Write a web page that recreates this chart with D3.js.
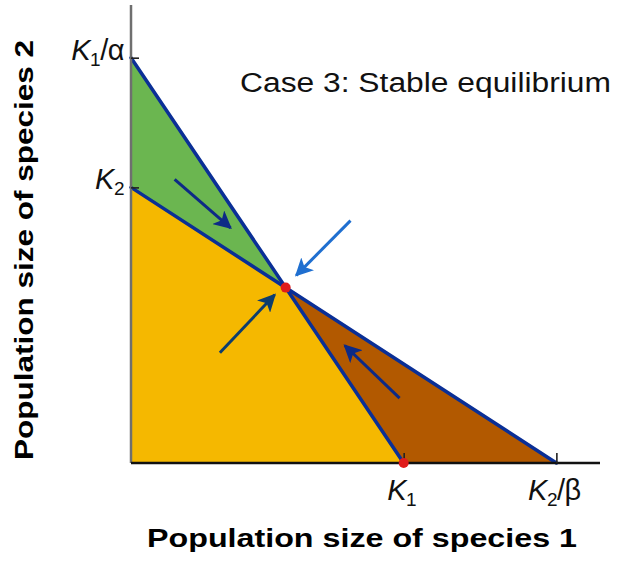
<!DOCTYPE html>
<html>
<head>
<meta charset="utf-8">
<script src="https://cdn.jsdelivr.net/npm/d3@7"></script>
<style>
  html, body { margin: 0; padding: 0; background: #fff; }
  svg { display: block; }
  text { font-family: "Liberation Sans", Arial, Helvetica, sans-serif; }
</style>
</head>
<body>
<svg id="chart" width="629" height="562"></svg>
<script>
// Lotka–Volterra competition, case 3: the two isoclines cross at a stable point.
const K1 = 100;          // carrying capacity of species 1
const K2 = 68;           // carrying capacity of species 2
const K1overAlpha = 100; // species 1 isocline intercept on the N2 axis
const K2overBeta = 156;  // species 2 isocline intercept on the N1 axis
const xMax = 172, yMax = 113;

// crossing point of the two isoclines
const equilibrium = (() => {
  const a1 = K1overAlpha / K1, a2 = K2 / K2overBeta;   // slopes (magnitudes)
  const n1 = (K1overAlpha - K2) / (a1 - a2);
  return [n1, K1overAlpha - a1 * n1];
})();
// Regions of the phase plane (N1, N2 corner lists)
const regions = [
  { name: "both increase", color: "#f5b800", pts: [[0, 0], [0, K2], equilibrium, [K1, 0]] },
  { name: "species 2 above its isocline", color: "#6bb650", pts: [[0, K2], [0, K1overAlpha], equilibrium] },
  { name: "species 1 above its isocline", color: "#b25900", pts: [[K1, 0], equilibrium, [K2overBeta, 0]] }
];
// Direction arrows, each [tail, head] in population units
const arrows = [
  { color: "#0d2a86", seg: [[16, 70], [36.5, 58]] },
  { color: "#1f6fd0", seg: [[80.5, 59.8], [60.6, 46.3]] },
  { color: "#0d3d6e", seg: [[32.6, 27.2], [52.7, 41.5]] },
  { color: "#0d2a86", seg: [[98.5, 16], [78.4, 29]] }
];
const yTicks = [{ v: K1overAlpha, main: "K", sub: "1", tail: "/α" }, { v: K2, main: "K", sub: "2", tail: "" }];
const xTicks = [{ v: K1, main: "K", sub: "1", tail: "" }, { v: K2overBeta, main: "K", sub: "2", tail: "/β" }];

const svg = d3.select("#chart");
const x = d3.scaleLinear().domain([0, xMax]).range([131, 600]);
const y = d3.scaleLinear().domain([0, yMax]).range([463, 5]);
const line = d3.line().x(d => x(d[0])).y(d => y(d[1]));

// filled regions
svg.selectAll("path.region").data(regions).join("path")
  .attr("class", "region")
  .attr("d", d => line(d.pts) + "Z")
  .attr("fill", d => d.color);

// isoclines
const iso = [[[0, K1overAlpha], [K1, 0]], [[0, K2], [K2overBeta, 0]]];
svg.selectAll("path.iso").data(iso).join("path")
  .attr("class", "iso")
  .attr("d", line)
  .attr("fill", "none")
  .attr("stroke", "#0a2f96")
  .attr("stroke-width", 3.5)
  .attr("stroke-linecap", "round");

// axes
const yAxis = d3.axisRight(y).tickValues(yTicks.map(t => t.v)).tickSize(8).tickFormat("");
const xAxis = d3.axisTop(x).tickValues(xTicks.map(t => t.v)).tickSize(10).tickFormat("");
const gy = svg.append("g").attr("transform", `translate(${x(0)},0)`).call(yAxis);
gy.select(".domain").attr("d", `M0,${y(yMax)}V${y(0)}`).attr("stroke", "#6f6f6f").attr("stroke-width", 2.5);
gy.selectAll(".tick line").attr("stroke", "#222").attr("stroke-width", 1.6);
const gx = svg.append("g").attr("transform", `translate(0,${y(0)})`).call(xAxis);
gx.select(".domain").attr("d", `M${x(0)},0H${x(xMax)}`).attr("stroke", "#111").attr("stroke-width", 2.5);
gx.selectAll(".tick line").attr("stroke", "#222").attr("stroke-width", 1.6);

// arrows
const defs = svg.append("defs");
arrows.forEach((a, i) => {
  defs.append("marker")
    .attr("id", "head" + i)
    .attr("viewBox", "0 0 10 10").attr("refX", 9).attr("refY", 5)
    .attr("markerWidth", 6).attr("markerHeight", 6)
    .attr("markerUnits", "strokeWidth")
    .attr("orient", "auto")
    .append("path").attr("d", "M0,0L10,5L0,10L2.5,5Z").attr("fill", a.color);
});
svg.selectAll("path.arrow").data(arrows).join("path")
  .attr("class", "arrow")
  .attr("d", d => line(d.seg))
  .attr("stroke", d => d.color)
  .attr("stroke-width", 3)
  .attr("fill", "none")
  .attr("marker-end", (d, i) => `url(#head${i})`);

// equilibrium points
svg.selectAll("circle.eq").data([equilibrium, [K1, 0]]).join("circle")
  .attr("class", "eq")
  .attr("cx", d => x(d[0])).attr("cy", d => y(d[1]))
  .attr("r", 5).attr("fill", "#e01b1b");

// tick labels: italic K with subscript
function kLabel(sel, t) {
  sel.append("tspan").attr("font-style", "italic").text(t.main);
  sel.append("tspan").attr("font-size", 19).attr("dy", 6).text(t.sub);
  if (t.tail) sel.append("tspan").attr("dy", -6).text(t.tail);
}
yTicks.forEach(t => {
  const tx = svg.append("text").attr("x", 124).attr("y", y(t.v) + 2)
    .attr("text-anchor", "end").attr("font-size", 29).attr("fill", "#111")
    .attr("letter-spacing", -0.5);
  kLabel(tx, t);
});
xTicks.forEach(t => {
  const tx = svg.append("text").attr("x", x(t.v) - 2).attr("y", 500)
    .attr("text-anchor", "middle").attr("font-size", 29).attr("fill", "#111")
    .attr("letter-spacing", -0.5);
  kLabel(tx, t);
});

// titles
svg.append("text").attr("x", 240).attr("y", 92)
  .attr("font-size", 27).attr("fill", "#111")
  .attr("textLength", 371).attr("lengthAdjust", "spacingAndGlyphs")
  .text("Case 3: Stable equilibrium");
svg.append("text").attr("x", 362).attr("y", 547)
  .attr("text-anchor", "middle").attr("font-size", 26).attr("font-weight", "bold").attr("fill", "#000")
  .attr("textLength", 430).attr("lengthAdjust", "spacingAndGlyphs")
  .text("Population size of species 1");
svg.append("text").attr("transform", "translate(33,250) rotate(-90)")
  .attr("text-anchor", "middle").attr("font-size", 26).attr("font-weight", "bold").attr("fill", "#000")
  .attr("textLength", 420).attr("lengthAdjust", "spacingAndGlyphs")
  .text("Population size of species 2");
</script>
</body>
</html>
